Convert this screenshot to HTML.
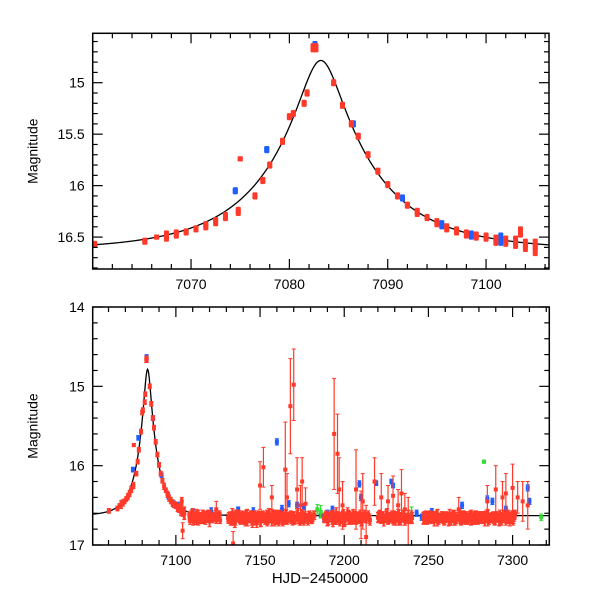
<!DOCTYPE html>
<html><head><meta charset="utf-8"><style>
body{margin:0;background:#fff}
svg{display:block;font-family:"Liberation Sans",sans-serif}
</style></head><body>
<svg id="chart" width="600" height="600" viewBox="0 0 600 600" xmlns="http://www.w3.org/2000/svg"></svg>
<script>
// ---- model parameters (data) ----
const modelT0 = 7083.2, modelU0 = 0.185, modelTE = 11.0, modelBase = 16.63;
// ---- top panel data ----
const topRedT = [7060.2,7065.3,7066.5,7067.5,7068.5,7069.5,7070.5,7071.5,7072.5,7073.5,7074.8,7075.0,7076.5,7077.3,7078.0,7079.3,7080.0,7080.4,7081.5,7081.8,7082.4,7082.7,7084.5,7085.4,7086.3,7087.0,7088.0,7089.0,7090.0,7091.0,7092.0,7093.0,7094.0,7095.0,7096.0,7097.0,7098.0,7099.0,7100.0,7101.0,7102.0,7103.0,7103.5,7104.0,7105.0];
const topRedM = [16.57,16.54,16.50,16.49,16.47,16.45,16.42,16.39,16.35,16.30,16.25,15.74,16.10,15.95,15.80,15.57,15.33,15.30,15.20,15.10,14.66,14.66,15.00,15.22,15.40,15.52,15.70,15.86,15.99,16.10,16.19,16.26,16.31,16.36,16.41,16.44,16.47,16.49,16.50,16.53,16.54,16.55,16.45,16.58,16.60];
const topRedE = [0.03,0.03,0.02,0.05,0.04,0.03,0.03,0.04,0.04,0.04,0.04,0.02,0.03,0.03,0.03,0.03,0.03,0.03,0.03,0.03,0.04,0.04,0.03,0.03,0.03,0.03,0.03,0.03,0.03,0.03,0.03,0.04,0.03,0.04,0.04,0.04,0.04,0.04,0.04,0.05,0.05,0.06,0.05,0.06,0.08];
const topBlueT = [7074.5,7077.7,7082.6,7086.5,7091.5,7095.5,7098.5,7101.5];
const topBlueM = [16.05,15.65,14.63,15.40,16.12,16.38,16.48,16.52];
const topBlueE = [0.03,0.03,0.03,0.03,0.03,0.04,0.04,0.06];
// ---- bottom panel data ----
const botBandStart = 7108;
const botBandM = [16.62,16.66,16.60,16.70,16.64,16.68,16.63,16.67,16.61,16.69,16.65,16.62,16.70,16.64,16.66,16.63,16.68,16.65,16.61,null,null,null,null,16.66,16.63,16.69,16.64,16.71,16.60,16.66,16.68,16.62,16.65,16.70,16.63,16.67,16.61,16.69,16.64,16.66,16.72,16.62,16.65,16.68,16.63,16.70,16.61,16.66,16.64,16.69,16.62,16.67,16.65,16.71,16.60,16.68,16.63,16.66,16.70,16.64,16.62,16.67,16.65,16.69,16.63,16.68,16.66,16.61,16.70,16.64,16.67,16.63,16.66,16.69,16.62,null,null,null,null,null,16.66,16.63,16.70,16.65,16.61,16.68,16.64,16.67,16.62,16.69,16.65,16.63,16.71,16.66,16.60,16.68,16.64,16.67,16.62,16.70,16.65,16.63,16.69,16.66,16.61,16.68,16.64,16.67,null,null,null,null,16.65,16.62,16.69,16.64,16.67,16.63,16.70,16.66,16.61,16.68,16.64,16.67,16.62,16.69,16.65,16.63,16.70,16.66,16.62,16.68,16.64,null,null,null,null,null,null,16.66,16.63,16.68,16.65,16.62,16.69,16.64,16.67,16.63,16.70,16.65,16.62,16.68,16.66,16.63,16.69,16.64,16.67,16.62,16.70,16.65,16.63,16.68,16.66,16.61,16.69,16.64,16.67,16.63,16.70,16.65,16.62,16.68,16.66,16.63,16.69,16.64,16.67,16.62,16.70,16.65,16.63,16.68,16.66,16.62,16.69,16.64,16.67,16.63,16.70,16.65,16.66,16.68,16.64,16.66];
const botBandE = [0.04,0.05,0.06,0.04,0.07,0.05,0.04,0.06,0.05,0.04,0.06,0.05,0.07,0.04,0.05];
const botOutT = [7103,7104,7124,7134,7150,7152,7157,7165,7166,7168,7170,7172,7174,7175,7177,7194,7196,7197,7199,7207,7210,7211,7213,7218,7222,7226,7229,7232,7234,7236,7238,7268,7285,7290,7294,7296,7300,7303,7306,7309];
const botOutM = [16.55,16.82,16.55,16.98,16.25,16.02,16.40,16.05,16.40,15.25,14.98,16.30,16.50,16.20,16.48,15.60,15.85,16.30,16.50,16.30,16.62,16.45,16.90,16.20,16.40,16.45,16.38,16.50,16.35,16.55,16.70,16.55,16.45,16.30,16.40,16.35,16.28,16.40,16.45,16.50];
const botOutE = [0.08,0.1,0.1,0.15,0.3,0.25,0.15,0.6,0.3,0.6,0.45,0.4,0.25,0.3,0.2,0.7,0.5,0.4,0.3,0.5,0.3,0.35,0.4,0.3,0.3,0.2,0.25,0.2,0.3,0.2,0.3,0.15,0.2,0.3,0.2,0.25,0.3,0.2,0.25,0.3];
const botBlueT = [7110,7121,7137,7146,7160,7163,7167,7172,7176,7186,7188,7190,7193,7209,7210,7219,7228,7229,7243,7246,7248,7252,7270,7285,7288,7296,7309,7310];
const botBlueM = [16.57,16.58,16.55,16.58,15.70,16.55,16.48,16.50,16.52,16.62,16.66,16.60,16.55,16.23,16.40,16.22,16.20,16.25,16.60,16.65,16.62,16.58,16.50,16.42,16.45,16.55,16.28,16.45];
const botBlueE = [0.03,0.05,0.03,0.05,0.04,0.05,0.04,0.04,0.04,0.04,0.04,0.04,0.04,0.04,0.04,0.03,0.03,0.03,0.04,0.04,0.04,0.04,0.04,0.04,0.04,0.04,0.04,0.04];
const botGreenT = [7184,7186,7240,7283,7317];
const botGreenM = [16.55,16.58,16.62,15.95,16.65];
const botGreenE = [0.06,0.08,0.1,0.02,0.04];

const NS = "http://www.w3.org/2000/svg";
const svg = document.getElementById('chart');
function mk(tag, attrs, parent){
  const e = document.createElementNS(NS, tag);
  for (const k in attrs) e.setAttribute(k, attrs[k]);
  (parent||svg).appendChild(e);
  return e;
}
function model(t){
  const u = Math.sqrt(modelU0*modelU0 + Math.pow((t-modelT0)/modelTE,2));
  const A = (u*u+2)/(u*Math.sqrt(u*u+4));
  return modelBase - 2.5*Math.log10(A);
}
function panel(name, L, R, T, B, x0, x1, y0, y1, xMaj, xMin, yMaj, yMin){
  const g = mk('g', {});
  
  
  const sx = v => L + (v-x0)/(x1-x0)*(R-L);
  const sy = v => T + (v-y0)/(y1-y0)*(B-T);
  const clip = mk('clipPath', {id: name+'-clip'}, g);
  mk('rect', {x:L, y:T, width:R-L, height:B-T}, clip);
  const data = mk('g', {'clip-path':'url(#'+name+'-clip)'}, g);
  
  
  let d = '';
  for (let i=0;i<=800;i++){ const t = x0 + (x1-x0)*i/800; d += (i?'L':'M')+sx(t).toFixed(2)+','+sy(model(t)).toFixed(2); }
  const curve = mk('path', {d, fill:'none', stroke:'#000', 'stroke-width':1.3}, data);
  
  
  const fr = mk('rect', {x:L, y:T, width:R-L, height:B-T, fill:'none', stroke:'#000', 'stroke-width':1.5}, g);
  
  
  const tk = mk('g', {stroke:'#000','stroke-width':1.2}, g);
  const eps=1e-6;
  for (let v=Math.ceil(x0/xMin)*xMin; v<=x1+eps; v+=xMin){
    const major = Math.abs(v/xMaj - Math.round(v/xMaj))<eps; const len = major?10:5; const x=sx(v);
    mk('line',{x1:x,x2:x,y1:B,y2:B-len},tk); mk('line',{x1:x,x2:x,y1:T,y2:T+len},tk);
    if (major && x > L+15 && x < R-15){
      const tx = mk('text',{x:x,y:B+20,'text-anchor':'middle','font-size':14,fill:'#000'},g);
      tx.textContent=Math.round(v);
      
      
    }
  }
  for (let v=Math.ceil(y0/yMin-eps)*yMin; v<=y1+eps; v+=yMin){
    const major = Math.abs(v/yMaj - Math.round(v/yMaj))<1e-4; const len = major?10:5; const y=sy(v);
    mk('line',{x1:L,x2:L+len,y1:y,y2:y},tk); mk('line',{x1:R,x2:R-len,y1:y,y2:y},tk);
    if (major){
      const tx = mk('text',{x:L-8,y:y+5,'text-anchor':'end','font-size':14,fill:'#000'},g);
      tx.textContent = (+v.toFixed(2)).toString();
      
      
    }
  }
  const yl = mk('text',{x:0,y:0,transform:'translate('+(L-55)+','+((T+B)/2)+') rotate(-90)','text-anchor':'middle','font-size':14,fill:'#000'},g);
  yl.textContent='Magnitude';
  
  
  function pts(ts, ms, es, color, sz, nm, bw){
    const s = mk('g', {}, data);
    
    
    for (let i=0;i<ts.length;i++){
      if (ms[i]==null) continue;
      const x=sx(ts[i]), y=sy(ms[i]), e=Math.abs(sy(ms[i]+es[i])-y);
      const p = mk('g', {}, s);
      
      
      mk('line',{x1:x,x2:x,y1:y-e,y2:y+e,stroke:color,'stroke-width':bw||1.2},p);
      mk('line',{x1:x-2,x2:x+2,y1:y-e,y2:y-e,stroke:color,'stroke-width':1},p);
      mk('line',{x1:x-2,x2:x+2,y1:y+e,y2:y+e,stroke:color,'stroke-width':1},p);
      mk('rect',{x:x-sz/2,y:y-sz/2,width:sz,height:sz,fill:color},p);
    }
  }
  return {sx, sy, pts};
}
const topPanel = panel('top-panel', 92.7, 549, 33.3, 269, 7060.0, 7106.4, 14.52, 16.81, 10, 2, 0.5, 0.1);
topPanel.pts(topBlueT, topBlueM, topBlueE, '#1f5fff', 5, 'blue-series', 5);
topPanel.pts(topRedT, topRedM, topRedE, '#ff3a2a', 5, 'red-series', 5);
const botPanel = panel('bottom-panel', 92.7, 549.3, 307, 545, 7050.6, 7321.8, 14.0, 17.0, 50, 10, 1, 0.2);
botPanel.pts(topBlueT, topBlueM, topBlueE, '#1f5fff', 4, 'blue-peak-series', 3);
botPanel.pts(topRedT, topRedM, topRedE, '#ff3a2a', 4, 'red-peak-series', 3);
botPanel.pts(botBlueT, botBlueM, botBlueE, '#1f5fff', 4, 'blue-series', 3);
botPanel.pts(botGreenT, botGreenM, botGreenE, '#33dd33', 4, 'green-series', 1.5);
const bandT = botBandM.map((m,i)=>botBandStart+i);
const bandE = botBandM.map((m,i)=>botBandE[i%botBandE.length]);
const bandT2 = botBandM.map((m,i)=>botBandStart+i+0.5);
const bandM2 = botBandM.map((m,i)=>m==null?null:botBandM[(i+3)%botBandM.length]);
const bandT3 = botBandM.map((m,i)=>botBandStart+i+0.25);
const bandM3 = botBandM.map((m,i)=>m==null?null:botBandM[(i+7)%botBandM.length]);
botPanel.pts(bandT, botBandM, bandE, '#ff3a2a', 4, 'red-band-series', 2);
botPanel.pts(bandT2, bandM2, bandE, '#ff3a2a', 4, 'red-band-series-2', 2);
botPanel.pts(bandT3, bandM3, bandE, '#ff3a2a', 4, 'red-band-series-3', 2);
botPanel.pts(botOutT, botOutM, botOutE, '#ff3a2a', 4, 'red-outlier-series', 1.2);
const xt = mk('text',{x:320,y:583,'text-anchor':'middle','font-size':15,fill:'#000'});
xt.textContent='HJD\u22122450000';


</script>
</body></html>
